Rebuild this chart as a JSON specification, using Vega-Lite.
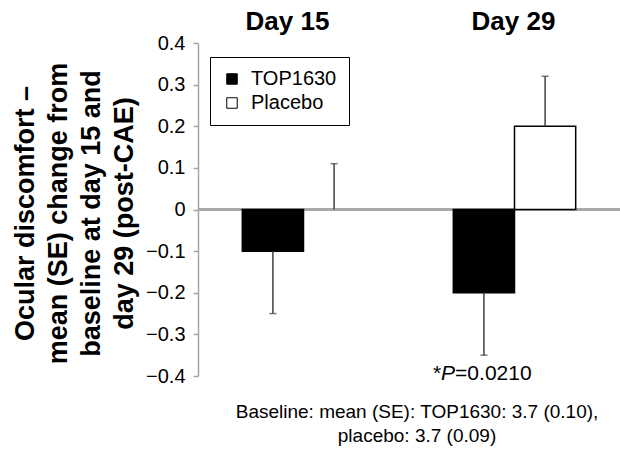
{
  "$schema": "https://vega.github.io/schema/vega-lite/v6.json",
  "width": 422,
  "height": 333,
  "autosize": {"type": "none"},
  "padding": {"left": 198, "top": 43, "right": 0, "bottom": 75},
  "background": "white",
  "config": {"font": "Liberation Sans", "view": {"stroke": null}},
  "title": {
    "text": ["Baseline: mean (SE): TOP1630: 3.7 (0.10),", "placebo: 3.7 (0.09)"],
    "orient": "bottom",
    "anchor": "middle",
    "fontSize": 19,
    "fontWeight": "normal",
    "color": "black",
    "lineHeight": 24,
    "baseline": "alphabetic",
    "offset": 32,
    "dx": 8
  },
  "data": {
    "values": [
      {"day": "Day 15", "group": "TOP1630", "mean": -0.1, "err": -0.25},
      {"day": "Day 15", "group": "Placebo", "mean": 0.0, "err": 0.11},
      {"day": "Day 29", "group": "TOP1630", "mean": -0.2, "err": -0.35},
      {"day": "Day 29", "group": "Placebo", "mean": 0.2, "err": 0.32}
    ]
  },
  "layer": [
    {
      "mark": {"type": "rule", "color": "#a6a6a6", "strokeWidth": 2},
      "encoding": {
        "y": {"datum": 0, "type": "quantitative", "scale": {"domain": [-0.4, 0.4], "nice": false},
          "axis": {
            "values": [-0.4, -0.3, -0.2, -0.1, 0, 0.1, 0.2, 0.3, 0.4],
            "labelExpr": "datum.value == 0 ? '0' : format(datum.value, '.1f')",
            "grid": false,
            "domainColor": "#a6a6a6",
            "domainWidth": 1.5,
            "tickColor": "#a6a6a6",
            "tickWidth": 1.5,
            "tickSize": 5,
            "labelFontSize": 20,
            "labelColor": "black",
            "labelPadding": 8,
            "title": ["Ocular discomfort –", "mean (SE) change from", "baseline at day 15 and", "day 29 (post-CAE)"],
            "titleFontSize": 27,
            "titleFontWeight": "bold",
            "titleColor": "black",
            "titleLineHeight": 33,
            "titleBaseline": "alphabetic",
            "titleX": -165,
            "titleY": 170
          }
        }
      }
    },
    {
      "transform": [{"filter": "datum.mean != 0"}],
      "mark": {"type": "bar", "stroke": "black", "strokeWidth": 1.5},
      "encoding": {
        "x": {
          "field": "day", "type": "nominal", "sort": ["Day 15", "Day 29"],
          "scale": {"domain": ["Day 15", "Day 29"], "paddingInner": 0.42, "paddingOuter": 0.21},
          "axis": {
            "orient": "top", "domain": false, "ticks": false, "title": null,
            "labelAngle": 0, "labelFontSize": 26, "labelFontWeight": "bold",
            "labelColor": "black", "labelPadding": 14, "labelBaseline": "alphabetic",
            "labelOffset": {"condition": {"test": "datum.value === 'Day 15'", "value": -16}, "value": -1}
          }
        },
        "xOffset": {
          "field": "group", "type": "nominal",
          "scale": {"domain": ["TOP1630", "Placebo"], "paddingInner": 0, "paddingOuter": 0}
        },
        "y": {"field": "mean", "type": "quantitative"},
        "fill": {
          "field": "group", "type": "nominal",
          "scale": {"domain": ["TOP1630", "Placebo"], "range": ["black", "white"]},
          "legend": {
            "orient": "none", "legendX": 12, "legendY": 14, "title": null,
            "strokeColor": "black", "fillColor": "white", "padding": 12,
            "symbolType": "square", "symbolSize": 110, "symbolStrokeColor": "black",
            "symbolStrokeWidth": 1, "labelFontSize": 20, "labelColor": "black",
            "labelOffset": 9, "rowPadding": 4
          }
        }
      }
    },
    {
      "mark": {"type": "rule", "color": "#404040", "strokeWidth": 1.5},
      "encoding": {
        "x": {"field": "day", "type": "nominal"},
        "xOffset": {"field": "group", "type": "nominal"},
        "y": {"field": "mean", "type": "quantitative"},
        "y2": {"field": "err"}
      }
    },
    {
      "mark": {"type": "tick", "orient": "horizontal", "size": 7, "thickness": 1.5, "color": "#404040"},
      "encoding": {
        "x": {"field": "day", "type": "nominal"},
        "xOffset": {"field": "group", "type": "nominal"},
        "y": {"field": "err", "type": "quantitative"}
      }
    },
    {
      "data": {"values": [{"day": "Day 29", "group": "TOP1630", "pos": -0.4, "star": "*", "p": "P", "rest": "=0.0210"}]},
      "layer": [
        {
          "mark": {"type": "text", "align": "left", "baseline": "alphabetic", "fontSize": 21, "dx": -51, "dy": 4, "color": "black"},
          "encoding": {"text": {"field": "star"}}
        },
        {
          "mark": {"type": "text", "align": "left", "baseline": "alphabetic", "fontSize": 21, "fontStyle": "italic", "dx": -42.8, "dy": 4, "color": "black"},
          "encoding": {"text": {"field": "p"}}
        },
        {
          "mark": {"type": "text", "align": "left", "baseline": "alphabetic", "fontSize": 21, "dx": -28.8, "dy": 4, "color": "black"},
          "encoding": {"text": {"field": "rest"}}
        }
      ],
      "encoding": {
        "x": {"field": "day", "type": "nominal"},
        "xOffset": {"field": "group", "type": "nominal"},
        "y": {"field": "pos", "type": "quantitative"}
      }
    }
  ]
}
